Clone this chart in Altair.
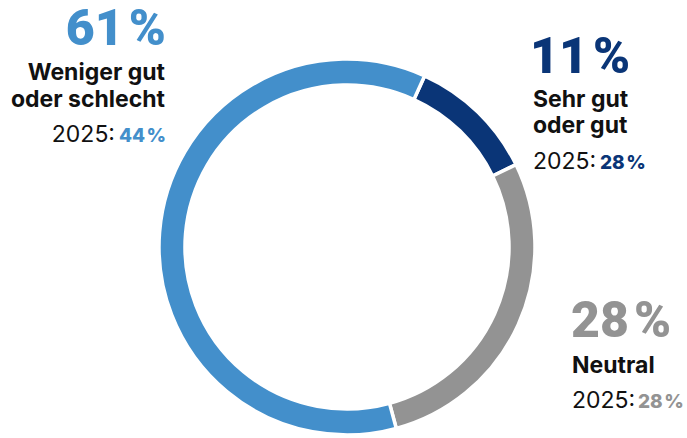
import altair as alt
import pandas as pd
import math

categories = ["Sehr gut oder gut", "Neutral", "Weniger gut oder schlecht"]
values = [11, 28, 61]
values_2025 = [28, 28, 44]
colors = ["#0A3577", "#939393", "#438FCB"]

df = pd.DataFrame({"cat": categories, "val": values, "order": [0, 1, 2]})

W, H = 687, 438
CX, CY = 347, 247
start = math.radians(24.4)

arc = alt.Chart(df).mark_arc(
    outerRadius=188, innerRadius=162, stroke="white", strokeWidth=3.5
).encode(
    theta=alt.Theta("val:Q", stack=True, scale=alt.Scale(range=[start, start + 2 * math.pi])),
    order=alt.Order("order:Q"),
    color=alt.Color("cat:N", scale=alt.Scale(domain=categories, range=colors), legend=None),
    x=alt.value(CX),
    y=alt.value(CY),
)

FONT = "Inter"
BIG = "Roboto"


def txt(text, x, y, size, weight, color, align, font=FONT):
    return alt.Chart(pd.DataFrame({"t": [text]})).mark_text(
        font=font, fontSize=size, fontWeight=weight, color=color, align=align,
        baseline="alphabetic",
    ).encode(text="t:N", x=alt.value(x), y=alt.value(y))


def pct(v):
    return f"{v}\u200a%"


layers = [arc]
# Left: Weniger gut oder schlecht
layers += [
    txt(pct(values[2]), 166, 45, 50, 900, colors[2], "right", BIG),
    txt("Weniger gut", 165, 80, 23, 700, "#111111", "right"),
    txt("oder schlecht", 165, 107, 23, 700, "#111111", "right"),
    txt(pct(values_2025[2]), 166, 142, 19, 800, colors[2], "right"),
    txt("2025:", 115, 142, 23, 400, "#111111", "right"),
]
# Right top: Sehr gut oder gut
layers += [
    txt(pct(values[0]), 530, 73, 50, 900, colors[0], "left", BIG),
    txt("Sehr gut", 533, 107, 23, 700, "#111111", "left"),
    txt("oder gut", 533, 133, 23, 700, "#111111", "left"),
    txt("2025:", 533, 169, 23, 400, "#111111", "left"),
    txt(pct(values_2025[0]), 600, 169, 19, 800, colors[0], "left"),
]
# Right bottom: Neutral
layers += [
    txt(pct(values[1]), 571, 337, 50, 900, colors[1], "left", BIG),
    txt("Neutral", 572, 373, 23, 700, "#111111", "left"),
    txt("2025:", 572, 408, 23, 400, "#111111", "left"),
    txt(pct(values_2025[1]), 638, 408, 19, 800, colors[1], "left"),
]

chart = alt.layer(*layers).properties(
    width=W, height=H, padding=0, autosize=alt.AutoSizeParams(type="none")
).configure_view(stroke=None)

chart.save("out.html", embed_options={"renderer": "svg", "actions": False})
